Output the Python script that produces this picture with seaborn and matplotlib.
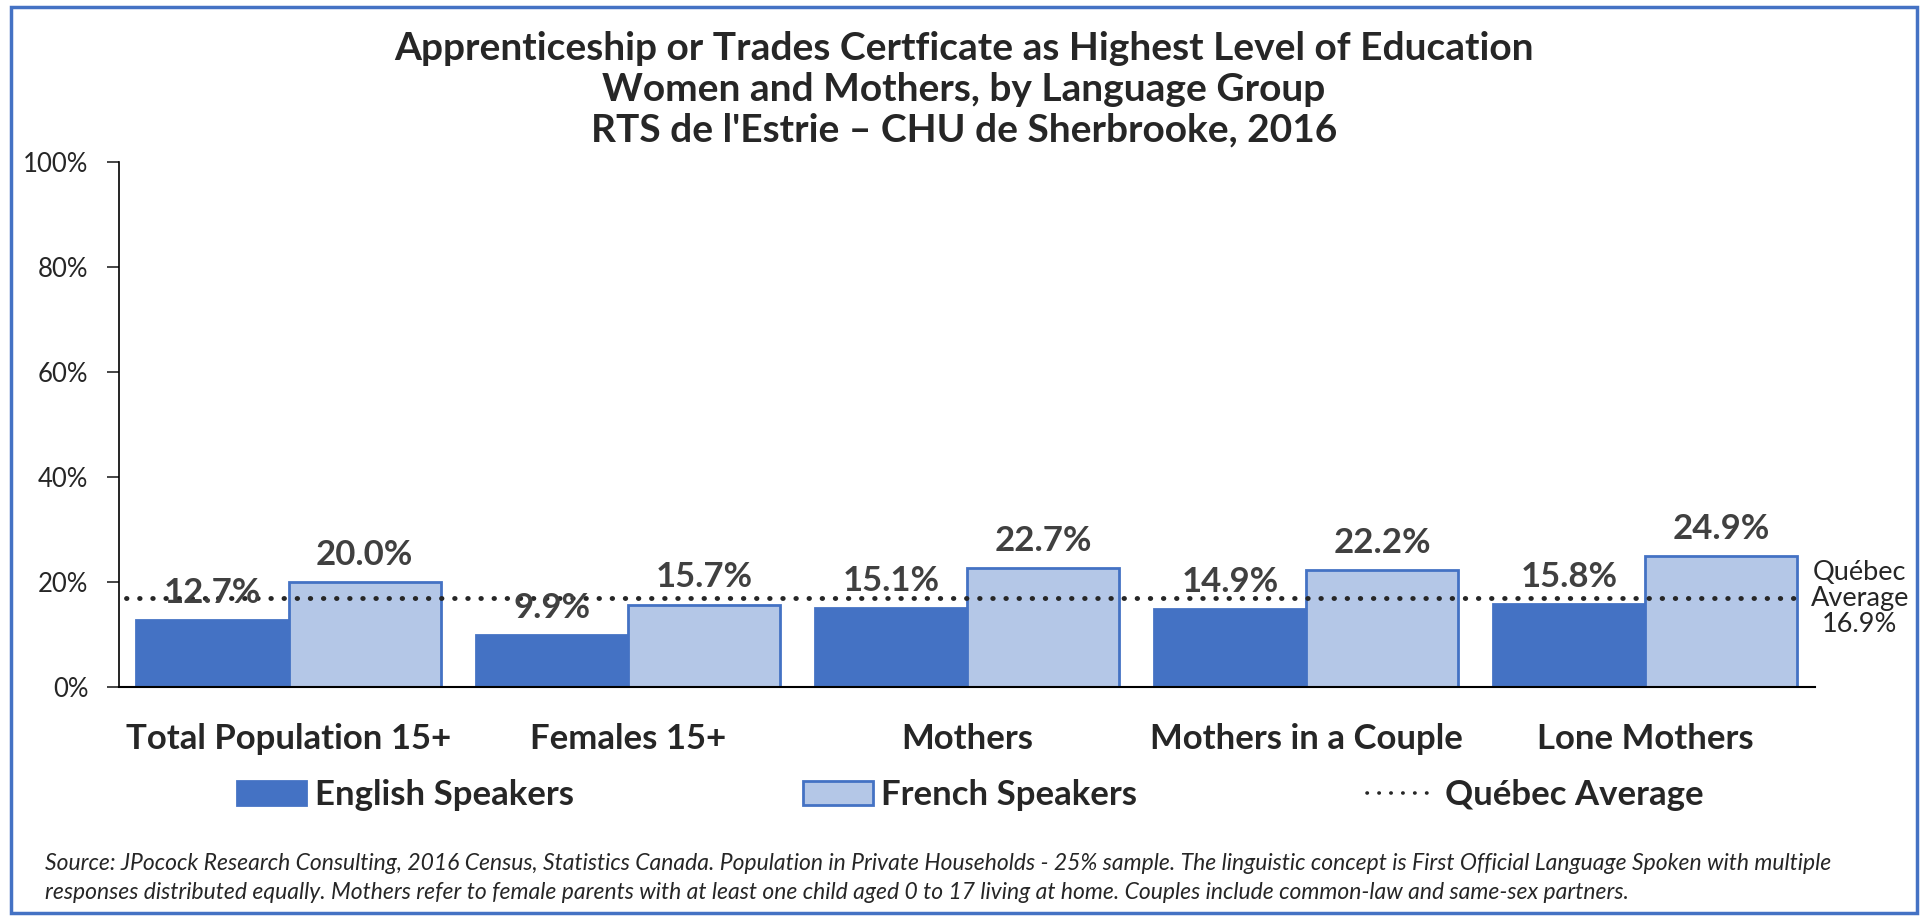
import pandas as pd
import numpy as np
import matplotlib.pyplot as plt
import seaborn as sns
from matplotlib.lines import Line2D
from matplotlib.patches import Patch, Rectangle
import matplotlib as mpl

sns.set_style('white')
mpl.rcParams['font.family'] = ['Lato', 'DejaVu Sans']

# data
categories = ['Total Population 15+', 'Females 15+', 'Mothers', 'Mothers in a Couple', 'Lone Mothers']
english = [12.7, 9.9, 15.1, 14.9, 15.8]
french = [20.0, 15.7, 22.7, 22.2, 24.9]
quebec_avg = 16.9
groups = ['English Speakers', 'French Speakers']

df = pd.DataFrame({
    'category': categories * 2,
    'value': english + french,
    'group': [groups[0]] * 5 + [groups[1]] * 5,
})

blue = '#4472C4'
light = '#B4C7E7'

fig = plt.figure(figsize=(19.25, 9.16), dpi=100)
ax = fig.add_axes([0.0618, 0.25, 0.881, 0.573])

sns.barplot(data=df, x='category', y='value', hue='group', palette=[blue, light],
            saturation=1, width=0.897, edgecolor=blue, linewidth=2, legend=False, ax=ax)

for cont in ax.containers:
    ax.bar_label(cont, fmt='%.1f%%', padding=8, fontsize=25, fontweight='bold', color='#404040')

# Québec average line (dotted)
ax.axhline(quebec_avg, xmin=0.004, xmax=0.99, color='#262626', linestyle=(0, (0.1, 2.6)),
           linewidth=3.5, dash_capstyle='round')
ax.text(1.0265, quebec_avg, 'Québec\nAverage\n16.9%', transform=ax.get_yaxis_transform(),
        ha='center', va='center', fontsize=19.5, linespacing=1.05)

ax.set_ylim(0, 100)
ax.set_xlim(-0.5, 4.5)
ax.set_yticks(np.arange(0, 101, 20))
ax.set_yticklabels([f'{v}%' for v in range(0, 101, 20)], fontsize=18.5)
ax.tick_params(axis='y', direction='out', length=9, width=1.2, pad=13, left=True)
ax.tick_params(axis='x', length=0, pad=26, labelsize=25)
for lab in ax.get_xticklabels():
    lab.set_fontweight('bold')
ax.set_xlabel('')
ax.set_ylabel('')
sns.despine(ax=ax)
ax.spines['left'].set_color('black')
ax.spines['bottom'].set_color('black')
ax.spines['left'].set_linewidth(1.2)
ax.spines['bottom'].set_linewidth(1.5)

title_lines = ['Apprenticeship or Trades Certficate as Highest Level of Education',
               'Women and Mothers, by Language Group',
               "RTS de l'Estrie – CHU de Sherbrooke, 2016"]
for t, yy in zip(title_lines, [0.947, 0.902, 0.858]):
    fig.text(0.5008, yy, t, ha='center', va='center', fontsize=28, fontweight='bold')

handles = [Patch(facecolor=blue, edgecolor=blue, linewidth=2),
           Patch(facecolor=light, edgecolor=blue, linewidth=2),
           Line2D([0], [0], color='#262626', linestyle=(0, (0.1, 3.2)), linewidth=2.6,
                  dash_capstyle='round')]
fig.legend(handles, ['English Speakers', 'French Speakers', 'Québec Average'],
           loc='center', bbox_to_anchor=(0.504, 0.132), ncol=3, frameon=False,
           prop={'weight': 'bold', 'size': 25}, handlelength=2.0, handleheight=0.72,
           handletextpad=0.25, columnspacing=6.6)

fig.text(0.0234, 0.0415,
         'Source: JPocock Research Consulting, 2016 Census, Statistics Canada. Population in Private Households - 25% sample. '
         'The linguistic concept is First Official Language Spoken with multiple\n'
         'responses distributed equally. Mothers refer to female parents with at least one child aged 0 to 17 living at home. '
         'Couples include common-law and same-sex partners.',
         ha='left', va='center', fontsize=16.5, style='italic', color='#262626', linespacing=1.45)

fig.patches.append(Rectangle((11 / 1925, 3 / 916), 1906 / 1925, 906 / 916, transform=fig.transFigure,
                             fill=False, edgecolor=blue, linewidth=2.5))

fig.savefig('out.png', dpi=100)
